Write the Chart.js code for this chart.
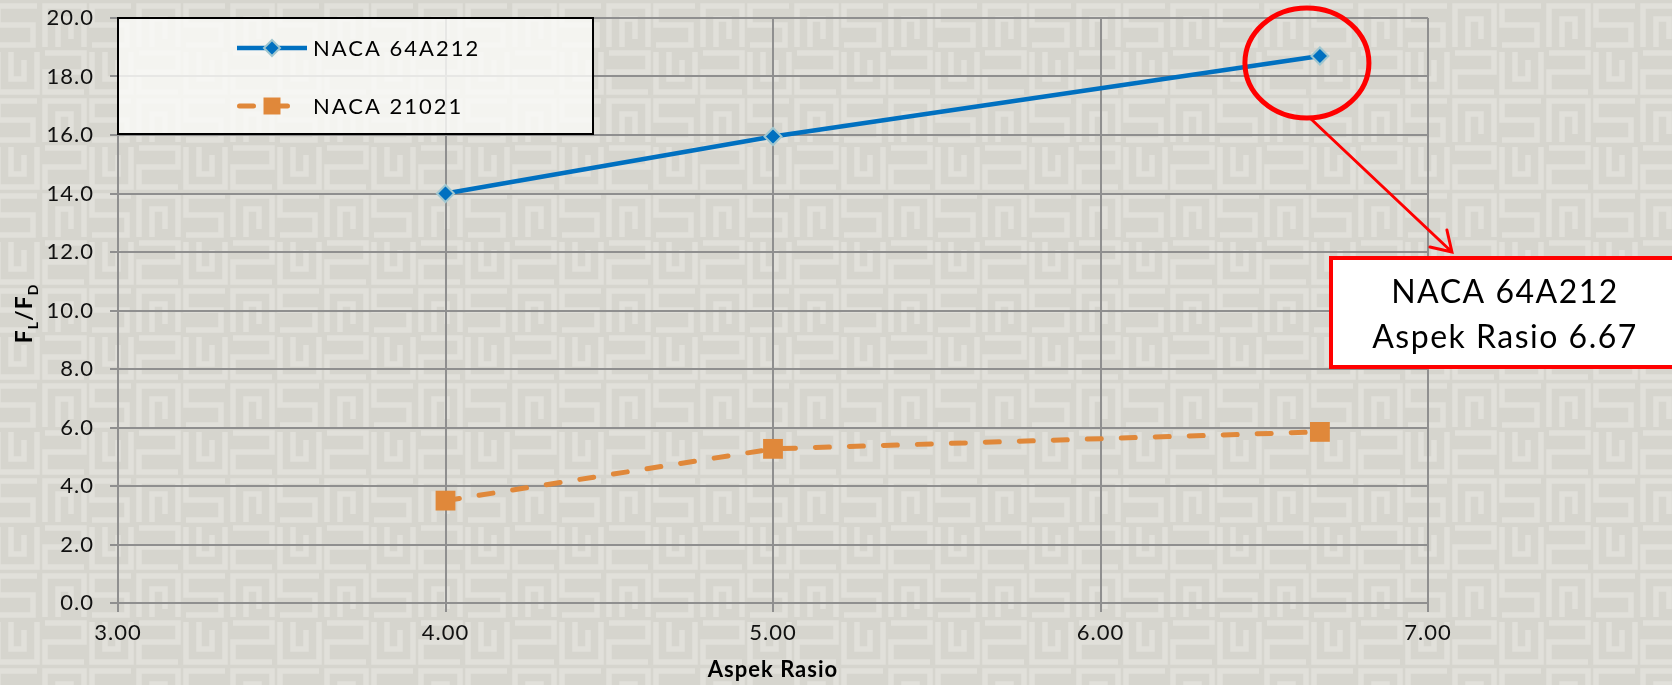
<!DOCTYPE html>
<html>
<head>
<meta charset="utf-8">
<script src="https://cdn.jsdelivr.net/npm/chart.js@4.4.1/dist/chart.umd.min.js"></script>
<style>
  html, body { margin: 0; padding: 0; width: 1672px; height: 685px; overflow: hidden; }
  body {
    background-color: #d6d5ce;
    background-image: url("data:image/svg+xml;utf8,<svg xmlns='http://www.w3.org/2000/svg' width='94' height='95'><g fill='none' stroke='%23e1e0da' stroke-width='5.5' stroke-linejoin='miter'><path d='M43 4H4V23H39V43H4'/><path d='M51 45V4H90V45M64 45V17H77V37'/><path d='M4 50V90H43V50M17 50V77H30V58'/><path d='M51 51H90V70H51V90H90'/></g></svg>");
    background-position: -6px 2px;
  }
  #wrap { position: relative; width: 1672px; height: 685px; }
</style>
</head>
<body>
<div id="wrap"><canvas id="chart" width="1672" height="685"></canvas></div>
<script>
// Aspect ratio (x) and lift-to-drag ratio (y) for the two airfoils
const aspectRatios = [4.00, 5.00, 6.67];
const naca64A212 = [14.0, 15.95, 18.7];
const naca21021 = [3.5, 5.27, 5.85];
const seriesNames = ['NACA 64A212', 'NACA 21021'];

// Axis ranges and tick spacing
const xRange = [3, 7];
const xStep = 1;
const yRange = [0, 20];
const yStep = 2;
const xTitle = 'Aspek Rasio';

// Highlighted point (best configuration)
const highlightSeries = 0;
const highlightIndex = 2;

const BLUE = '#0070C0';
const ORANGE = '#E0883A';
const GRID = '#8f8f8f';
const FONT = 'Lato, "Open Sans", sans-serif';

const toPoints = (ys) => aspectRatios.map((x, i) => ({ x: x, y: ys[i] }));

// Slightly wider text spacing for every label on the canvas
const spacingPlugin = {
  id: 'spacing',
  beforeDraw(chart) { chart.ctx.letterSpacing = '1px'; }
};

// Y-axis title with subscripts: F_L / F_D
const yTitlePlugin = {
  id: 'yTitle',
  afterDraw(chart) {
    const ctx = chart.ctx;
    const area = chart.chartArea;
    const parts = [
      { t: 'F', sub: false }, { t: 'L', sub: true },
      { t: '/', sub: false },
      { t: 'F', sub: false }, { t: 'D', sub: true }
    ];
    const big = 'bold 23px ' + FONT;
    const small = 'bold 14px ' + FONT;
    ctx.save();
    let total = 0;
    parts.forEach(p => { ctx.font = p.sub ? small : big; p.w = ctx.measureText(p.t).width; total += p.w; });
    ctx.translate(32, (area.top + area.bottom) / 2 + 3);
    ctx.rotate(-Math.PI / 2);
    ctx.fillStyle = '#000';
    ctx.textBaseline = 'alphabetic';
    let x = -total / 2;
    parts.forEach(p => {
      ctx.font = p.sub ? small : big;
      ctx.fillText(p.t, x, p.sub ? 6 : 0);
      x += p.w;
    });
    ctx.restore();
  }
};

// Legend box inside the plot, top-left
const legendBoxPlugin = {
  id: 'legendBox',
  afterDraw(chart) {
    const ctx = chart.ctx;
    const area = chart.chartArea;
    const bx = area.left, by = area.top, bw = 475, bh = 116;
    ctx.save();
    ctx.fillStyle = 'rgba(250,250,248,0.82)';
    ctx.fillRect(bx, by, bw, bh);
    ctx.lineWidth = 2;
    ctx.strokeStyle = '#000';
    ctx.strokeRect(bx, by, bw, bh);

    const rows = [30, 88];
    chart.data.datasets.forEach((ds, i) => {
      const y = by + rows[i];
      const cx = bx + 154;
      ctx.save();
      ctx.strokeStyle = ds.borderColor;
      ctx.lineWidth = ds.borderWidth;
      ctx.lineCap = ds.borderDash ? 'round' : 'butt';
      ctx.setLineDash(ds.borderDash || []);
      ctx.beginPath();
      if (ds.borderDash) {
        ctx.moveTo(bx + 121.5, y);
        ctx.lineTo(bx + 172, y);
      } else {
        ctx.moveTo(bx + 119, y);
        ctx.lineTo(bx + 189, y);
      }
      ctx.stroke();
      ctx.restore();
      ctx.save();
      ctx.fillStyle = ds.pointBackgroundColor;
      ctx.strokeStyle = ds.pointBorderColor;
      ctx.lineWidth = ds.pointBorderWidth;
      ctx.beginPath();
      if (ds.pointStyle === 'rect') {
        ctx.rect(cx - 8.5, y - 8.5, 17, 17);
        ctx.fill();
      } else {
        ctx.moveTo(cx, y - 8); ctx.lineTo(cx + 8, y); ctx.lineTo(cx, y + 8); ctx.lineTo(cx - 8, y); ctx.closePath();
        ctx.fill(); ctx.stroke();
      }
      ctx.restore();
      ctx.fillStyle = '#000';
      ctx.font = '22px ' + FONT;
      ctx.letterSpacing = '2px';
      ctx.textBaseline = 'middle';
      ctx.textAlign = 'left';
      ctx.fillText(ds.label, bx + 195, y + 1);
    });
    ctx.restore();
  }
};

// Red circle around the highlighted point, arrow and annotation box
const calloutPlugin = {
  id: 'callout',
  afterDraw(chart) {
    const ctx = chart.ctx;
    const xs = chart.scales.x, ys = chart.scales.y;
    const ds = chart.data.datasets[highlightSeries];
    const pt = ds.data[highlightIndex];
    const px = xs.getPixelForValue(pt.x);
    const py = ys.getPixelForValue(pt.y);
    const ex = px - 13, ey = py + 7, rx = 62, ry = 55;
    ctx.save();
    ctx.strokeStyle = '#ff0000';
    ctx.lineWidth = 5;
    ctx.beginPath();
    ctx.ellipse(ex, ey, rx, ry, 0, 0, Math.PI * 2);
    ctx.stroke();

    // arrow
    const ax0 = ex + 3, ay0 = ey + ry, ax1 = ex + 145, ay1 = ey + 189;
    ctx.lineWidth = 3;
    ctx.lineCap = 'round';
    ctx.beginPath();
    ctx.moveTo(ax0, ay0);
    ctx.lineTo(ax1, ay1);
    ctx.moveTo(ax1 - 22, ay1 - 5);
    ctx.lineTo(ax1, ay1);
    ctx.lineTo(ax1 - 5, ay1 - 22);
    ctx.stroke();

    // box
    const bx = 1331, by = 258, bw = 360, bh = 109;
    ctx.fillStyle = '#ffffff';
    ctx.fillRect(bx, by, bw, bh);
    ctx.lineWidth = 4;
    ctx.strokeStyle = '#ff0000';
    ctx.strokeRect(bx, by, bw, bh);

    ctx.fillStyle = '#000';
    ctx.font = '32px ' + FONT;
    ctx.letterSpacing = '1.5px';
    ctx.textAlign = 'center';
    ctx.textBaseline = 'alphabetic';
    ctx.fillText(ds.label, 1505, 303);
    ctx.fillText('Aspek Rasio ' + pt.x.toFixed(2), 1505, 348);
    ctx.restore();
  }
};

new Chart(document.getElementById('chart'), {
  type: 'scatter',
  data: {
    datasets: [
      {
        label: seriesNames[0],
        data: toPoints(naca64A212),
        showLine: true,
        borderColor: BLUE,
        backgroundColor: BLUE,
        borderWidth: 4.5,
        pointStyle: 'rectRot',
        pointRadius: 8.5,
        pointHoverRadius: 8.5,
        pointBackgroundColor: BLUE,
        pointBorderColor: '#9fc6cf',
        pointBorderWidth: 2,
        order: 1
      },
      {
        label: seriesNames[1],
        data: toPoints(naca21021),
        showLine: true,
        borderColor: ORANGE,
        backgroundColor: ORANGE,
        borderWidth: 5,
        borderDash: [14, 20],
        borderCapStyle: 'round',
        pointStyle: 'rect',
        pointRadius: 14,
        pointHoverRadius: 14,
        pointBackgroundColor: ORANGE,
        pointBorderColor: ORANGE,
        pointBorderWidth: 0,
        order: 2
      }
    ]
  },
  options: {
    responsive: false,
    animation: false,
    events: [],
    layout: { padding: { left: 0, top: 18, right: 244, bottom: 0 } },
    plugins: {
      legend: { display: false },
      tooltip: { enabled: false }
    },
    scales: {
      x: {
        type: 'linear',
        min: xRange[0],
        max: xRange[1],
        ticks: {
          stepSize: xStep,
          callback: (v) => Number(v).toFixed(2),
          font: { family: FONT, size: 22 },
          color: '#111',
          padding: 8,
          maxRotation: 0
        },
        grid: { color: GRID, lineWidth: 2, tickLength: 9, drawTicks: true },
        border: { display: true, color: GRID, width: 2 },
        title: {
          display: true,
          text: xTitle,
          font: { family: FONT, size: 22, weight: 'bold' },
          color: '#000',
          padding: { top: 0, bottom: 2 }
        },
        afterFit(scale) { scale.height = 82; }
      },
      y: {
        type: 'linear',
        min: yRange[0],
        max: yRange[1],
        ticks: {
          stepSize: yStep,
          callback: (v) => Number(v).toFixed(1),
          font: { family: FONT, size: 22 },
          color: '#111',
          padding: 16
        },
        grid: { color: GRID, lineWidth: 2, tickLength: 8, drawTicks: true },
        border: { display: true, color: GRID, width: 2 },
        afterFit(scale) {
          scale.width = 118;
          scale.paddingTop = 0;
          scale.paddingBottom = 0;
        }
      }
    }
  },
  plugins: [spacingPlugin, yTitlePlugin, legendBoxPlugin, calloutPlugin]
});
</script>
</body>
</html>
